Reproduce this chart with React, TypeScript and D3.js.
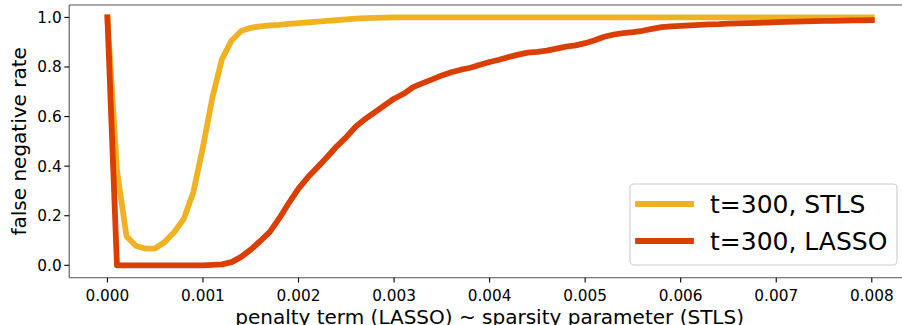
import React from "react";
import * as d3 from "d3";

const penalty: number[] = d3.range(81).map((i) => +(i * 0.0001).toFixed(4));

const stls: number[] = [
  1.0, 0.383, 0.117, 0.078, 0.067, 0.068, 0.094, 0.134, 0.188, 0.296,
  0.477, 0.679, 0.833, 0.907, 0.945, 0.958, 0.964, 0.968, 0.970, 0.974,
  0.977, 0.980, 0.983, 0.986, 0.989, 0.992, 0.995, 0.997, 0.998, 0.999,
  1.0, 1.0, 1.0, 1.0, 1.0, 1.0, 1.0, 1.0, 1.0, 1.0,
  1.0, 1.0, 1.0, 1.0, 1.0, 1.0, 1.0, 1.0, 1.0, 1.0,
  1.0, 1.0, 1.0, 1.0, 1.0, 1.0, 1.0, 1.0, 1.0, 1.0,
  1.0, 1.0, 1.0, 1.0, 1.0, 1.0, 1.0, 1.0, 1.0, 1.0,
  1.0, 1.0, 1.0, 1.0, 1.0, 1.0, 1.0, 1.0, 1.0, 1.0,
  1.0,
];

const lasso: number[] = [
  1.0, 0.0, 0.0, 0.0, 0.0, 0.0, 0.0, 0.0, 0.0, 0.0,
  0.0, 0.002, 0.004, 0.013, 0.034, 0.063, 0.098, 0.135, 0.19, 0.252,
  0.309, 0.356, 0.396, 0.437, 0.48, 0.517, 0.56, 0.591, 0.618, 0.645,
  0.672, 0.692, 0.719, 0.735, 0.75, 0.766, 0.779, 0.789, 0.797, 0.809,
  0.82, 0.829, 0.84, 0.85, 0.858, 0.861, 0.866, 0.874, 0.882, 0.887,
  0.896, 0.908, 0.922, 0.931, 0.937, 0.941, 0.946, 0.954, 0.961, 0.964,
  0.966, 0.968, 0.970, 0.972, 0.973, 0.975, 0.976, 0.977, 0.978, 0.979,
  0.981, 0.982, 0.983, 0.984, 0.985, 0.986, 0.986, 0.987, 0.988, 0.988,
  0.989,
];

const xTicks: number[] = [0, 0.001, 0.002, 0.003, 0.004, 0.005, 0.006, 0.007, 0.008];
const yTicks: number[] = [0, 0.2, 0.4, 0.6, 0.8, 1.0];

const seriesNames: string[] = ["t=300, STLS", "t=300, LASSO"];
const seriesColors: string[] = ["#F0B223", "#DA3E00"];

const W = 902;
const H = 325;
const left = 69.2;
const right = 910;
const top = 5;
const bottom = 277.7;
const font = "DejaVu Sans, sans-serif";
const spine = "#555";

export default function App() {
  const x = d3.scaleLinear().domain([-0.0004, 0.0084]).range([left, right]);
  const y = d3.scaleLinear().domain([-0.05, 1.05]).range([bottom, top]);
  const line = d3
    .line<number>()
    .x((_, i) => x(penalty[i]))
    .y((d) => y(d));
  const series = [stls, lasso];

  return (
    <svg
      width={W}
      height={H}
      style={{ position: "absolute", left: 0, top: 0, background: "#fff" }}
      fontFamily={font}
    >
      <defs>
        <clipPath id="plot">
          <rect x={left} y={top} width={right - left} height={bottom - top} />
        </clipPath>
      </defs>
      <rect x={0} y={0} width={W} height={H} fill="#fff" />
      <g clipPath="url(#plot)">
        {series.map((s, k) => (
          <path
            key={k}
            d={line(s) || ""}
            fill="none"
            stroke={seriesColors[k]}
            strokeWidth={5.8}
            strokeLinejoin="round"
            strokeLinecap="square"
          />
        ))}
      </g>
      {/* spines */}
      <line x1={left} x2={right} y1={top} y2={top} stroke={spine} strokeWidth={1.1} />
      <line x1={left} x2={right} y1={bottom} y2={bottom} stroke={spine} strokeWidth={1.1} />
      <line x1={left} x2={left} y1={top} y2={bottom} stroke={spine} strokeWidth={1.1} />
      <line x1={right} x2={right} y1={top} y2={bottom} stroke={spine} strokeWidth={1.1} />
      {/* x ticks */}
      {xTicks.map((t) => (
        <g key={"x" + t}>
          <line x1={x(t)} x2={x(t)} y1={bottom} y2={bottom + 4.9} stroke="#000" strokeWidth={1.1} />
          <text x={x(t)} y={bottom + 23.5} textAnchor="middle" fontSize={15.3} fill="#000">
            {d3.format(".3f")(t)}
          </text>
        </g>
      ))}
      {/* y ticks */}
      {yTicks.map((t) => (
        <g key={"y" + t}>
          <line x1={left - 4.9} x2={left} y1={y(t)} y2={y(t)} stroke="#000" strokeWidth={1.1} />
          <text x={left - 7.5} y={y(t)} dy="0.36em" textAnchor="end" fontSize={15.3} fill="#000">
            {d3.format(".1f")(t)}
          </text>
        </g>
      ))}
      <text
        x={(left + right) / 2}
        y={323.5}
        textAnchor="middle"
        fontSize={20}
        fill="#000"
      >
        penalty term (LASSO) ~ sparsity parameter (STLS)
      </text>
      <text
        transform={`translate(26,${(top + bottom) / 2}) rotate(-90)`}
        textAnchor="middle"
        fontSize={20}
        fill="#000"
      >
        false negative rate
      </text>
      {/* legend */}
      <rect x={630} y={184} width={267} height={81} rx={4} fill="#fff" fillOpacity={0.8} stroke="#ccc" strokeWidth={1.1} />
      {seriesNames.map((n, k) => (
        <g key={n}>
          <line
            x1={638}
            x2={691}
            y1={204 + k * 37}
            y2={204 + k * 37}
            stroke={seriesColors[k]}
            strokeWidth={5.8}
            strokeLinecap="square"
          />
          <text x={710} y={213 + k * 37} fontSize={25} fill="#000">
            {n}
          </text>
        </g>
      ))}
    </svg>
  );
}
